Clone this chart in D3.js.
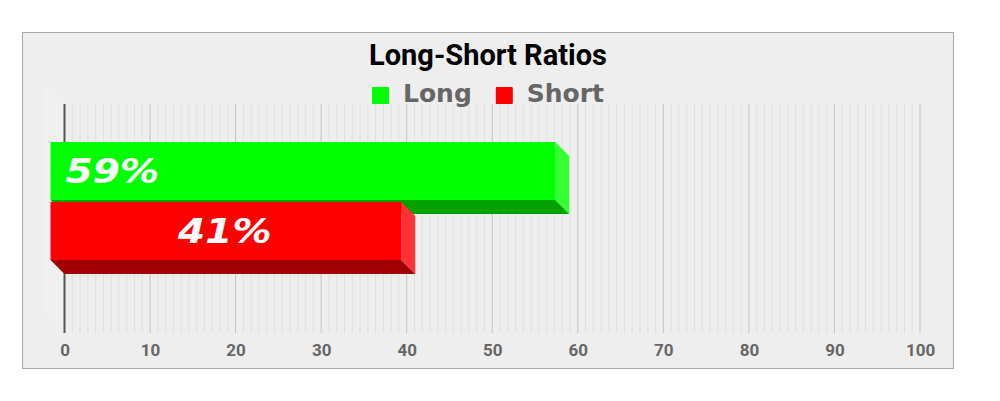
<!DOCTYPE html>
<html>
<head>
<meta charset="utf-8">
<script src="https://cdn.jsdelivr.net/npm/d3@7"></script>
<style>
  body { margin: 0; background: #fff; }
  svg { display: block; }
</style>
</head>
<body>
<svg id="chart" width="1000" height="401"></svg>
<script>
// data
const series = ["Long", "Short"];
const values = [59, 41];
const labels = ["59%", "41%"];
const xTicks = [0, 10, 20, 30, 40, 50, 60, 70, 80, 90, 100];

const colors = {
  Long: { front: "#00ff00", side: "#33ff33", bottom: "#00a000" },
  Short: { front: "#ff0000", side: "#ff3333", bottom: "#a00000" }
};

const svg = d3.select("#chart");
const depth = 14; // 3d offset of front face

// frame
svg.append("rect")
  .attr("x", 22.5).attr("y", 32.5)
  .attr("width", 931).attr("height", 336)
  .attr("fill", "#eeeeee")
  .attr("stroke", "#a8a8a8");

const plotTop = 104, plotBottom = 333;

const x = d3.scaleLinear().domain([0, 100]).range([64.5, 920]);
const y = d3.scaleBand().domain(series).range([156, 274]).paddingInner(0.035);

// left side wall (subtle)
svg.append("polygon")
  .attr("points", [[x(0) - 21, plotTop - 22], [x(0), plotTop], [x(0), plotBottom], [x(0) - 21, plotBottom - 20]].join(" "))
  .attr("fill", "#f0f0f0");

// minor grid
const minor = [];
for (let i = 0; i < 10; i++) {
  for (let j = 1; j < 11; j++) minor.push(i * 10 + j * 10 / 11);
}
svg.append("g").selectAll("line")
  .data(minor)
  .join("line")
  .attr("x1", d => x(d)).attr("x2", d => x(d))
  .attr("y1", plotTop).attr("y2", plotBottom)
  .attr("stroke", "#e0e0e0")
  .attr("stroke-width", 1);

// major grid
svg.append("g").selectAll("line")
  .data(xTicks.slice(1))
  .join("line")
  .attr("x1", d => x(d)).attr("x2", d => x(d))
  .attr("y1", plotTop).attr("y2", plotBottom)
  .attr("stroke", "#c4c4c4")
  .attr("stroke-width", 1);

// baseline axis
svg.append("line")
  .attr("x1", x(0)).attr("x2", x(0))
  .attr("y1", plotTop).attr("y2", plotBottom)
  .attr("stroke", "#555")
  .attr("stroke-width", 2);

// x axis labels
const xAxis = d3.axisBottom(x).tickValues(xTicks).tickSize(0).tickPadding(0);
const ax = svg.append("g")
  .attr("transform", "translate(0,344)")
  .call(xAxis);
ax.select(".domain").remove();
ax.selectAll("text")
  .attr("dy", "0.71em")
  .attr("fill", "#666")
  .style("font-family", "Roboto")
  .style("font-weight", "bold")
  .style("font-size", "17px");

// bars
const bars = svg.append("g");
series.forEach((s, i) => {
  const x0 = x(0), x1 = x(values[i]);
  const yt = y(s), yb = y(s) + y.bandwidth();
  const c = colors[s];
  const g = bars.append("g");
  // bottom face
  g.append("polygon")
    .attr("points", [[x0 - depth, yb - depth], [x1 - depth, yb - depth], [x1, yb], [x0, yb]].join(" "))
    .attr("fill", c.bottom);
  // side face
  g.append("polygon")
    .attr("points", [[x1 - depth, yt - depth], [x1, yt], [x1, yb], [x1 - depth, yb - depth]].join(" "))
    .attr("fill", c.side);
  // front face
  g.append("rect")
    .attr("x", x0 - depth).attr("y", yt - depth)
    .attr("width", x1 - x0).attr("height", y.bandwidth())
    .attr("fill", c.front);
  // value label
  const mid = yt - depth + y.bandwidth() / 2;
  const lx = i === 0 ? x0 - depth + 15 : x0 - depth + (x1 - x0) / 2 - 1;
  g.append("text")
    .attr("transform", `translate(${lx},${mid + 12}) scale(1.15,1)`)
    .attr("text-anchor", i === 0 ? "start" : "middle")
    .attr("fill", "#fff")
    .style("font-family", "DejaVu Sans")
    .style("font-weight", "bold")
    .style("font-style", "italic")
    .style("font-size", "34px")
    .text(labels[i]);
});

// title
svg.append("text")
  .attr("x", 488).attr("y", 65)
  .attr("text-anchor", "middle")
  .attr("fill", "#000")
  .style("font-family", "Roboto")
  .style("font-weight", "bold")
  .style("font-size", "29px")
  .text("Long-Short Ratios");

// legend
const legend = svg.append("g").attr("transform", "translate(372,87)");
let lx = 0;
series.forEach(s => {
  const item = legend.append("g").attr("transform", `translate(${lx},0)`);
  item.append("rect")
    .attr("width", 17).attr("height", 17).attr("rx", 1)
    .attr("fill", colors[s].front);
  const t = item.append("text")
    .attr("x", 31).attr("y", 15)
    .attr("fill", "#666")
    .style("font-family", "DejaVu Sans")
    .style("font-weight", "bold")
    .style("font-size", "25px")
    .text(s);
  lx += 31 + t.node().getComputedTextLength() + 24;
});
</script>
</body>
</html>
